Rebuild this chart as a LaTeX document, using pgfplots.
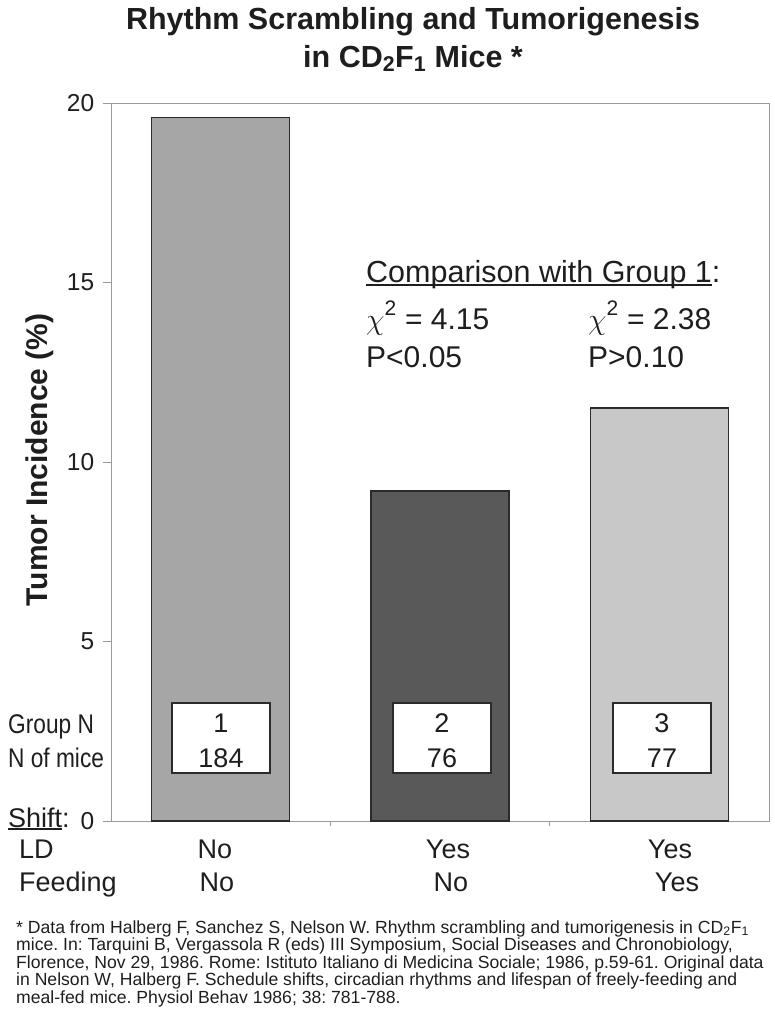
\RequirePackage{fix-cm}
\documentclass[border=0pt]{standalone}
\usepackage{fontspec}
\setmainfont{Liberation Sans}
\newfontfamily\narrowfont{Liberation Sans}[FakeStretch=0.84]
\usepackage{pgfplots}
\pgfplotsset{compat=1.18}
\definecolor{barA}{HTML}{A6A6A6}
\definecolor{barB}{HTML}{595959}
\definecolor{barC}{HTML}{C8C8C8}
\definecolor{edge}{HTML}{2B2B2B}
\definecolor{axgray}{HTML}{9A9A9A}
\definecolor{txt}{HTML}{1E1E1E}
\newcommand\ulx[2]{\setbox0\hbox{#2}\rlap{\rule[#1]{\wd0}{1.8pt}}\box0}
\newcommand\fs[1]{\fontsize{#1}{#1}\selectfont}
\frenchspacing
\begin{document}
\frenchspacing
\begin{tikzpicture}
\useasboundingbox (0pt,0pt) rectangle (774pt,-1031pt);
\begin{axis}[
  at={(111pt,-821pt)}, anchor=south west,
  scale only axis, width=658pt, height=718pt,
  xmin=0.5, xmax=3.5, ymin=0, ymax=20,
  ytick={0,5,10,15,20},
  xtick={1.5,2.5}, xticklabels={},
  tick pos=left, tick align=outside,
  axis line style={draw=axgray, line width=1pt},
  xtick style={draw=axgray, line width=1pt, /pgfplots/major tick length=5pt},
  ytick style={draw=axgray, line width=1pt, /pgfplots/major tick length=8pt},
  /pgf/number format/assume math mode=true,
  yticklabel style={font=\fs{24.5}, text=txt, xshift=-9pt},
  clip=false,
]
\addplot[ybar, bar width=138pt, bar shift=0pt, fill=barA, draw=edge, line width=1.6pt] coordinates {(1,19.6)};
\addplot[ybar, bar width=138pt, bar shift=0pt, fill=barB, draw=edge, line width=1.6pt] coordinates {(2,9.2)};
\addplot[ybar, bar width=138pt, bar shift=0pt, fill=barC, draw=edge, line width=1.6pt] coordinates {(3,11.5)};
\end{axis}
% boxes in bars
\foreach \cx/\a/\b in {221/1/184, 442/2/76, 662/3/77}{
  \node[draw=edge, line width=1.2pt, fill=white, minimum width=98pt, minimum height=70pt, inner sep=0pt] at (\cx pt,-738pt) {};
  \node[anchor=base, font=\fs{27}, text=txt, inner sep=0pt] at (\cx pt,-732pt) {\a};
  \node[anchor=base, font=\fs{27}, text=txt, inner sep=0pt] at (\cx pt,-767pt) {\b};
}
% title
\node[anchor=base, font=\bfseries\fs{30.5}, text=txt, inner sep=0pt] at (413pt,-29pt) {Rhythm Scrambling and Tumorigenesis};
\node[anchor=base, font=\bfseries\fs{30.5}, text=txt, inner sep=0pt] at (413pt,-67pt) {in CD\textsubscript{2}F\textsubscript{1} Mice *};
% y label
\node[anchor=base, rotate=90, font=\bfseries\fs{30}, text=txt, inner sep=0pt] at (47pt,-460pt) {Tumor Incidence (\%)};
% comparison
\node[anchor=base west, font=\fs{30.5}, text=txt, inner sep=0pt] at (366pt,-282pt) {\ulx{-3.5pt}{Comparison with Group 1}:};
\node[anchor=base west, font=\fs{30}, text=txt, inner sep=0pt] at (366pt,-329pt) {$\chi$\raisebox{3pt}{\textsuperscript{2}} = 4.15};
\node[anchor=base west, font=\fs{30}, text=txt, inner sep=0pt] at (366pt,-367pt) {P<0.05};
\node[anchor=base west, font=\fs{30}, text=txt, inner sep=0pt] at (588pt,-329pt) {$\chi$\raisebox{3pt}{\textsuperscript{2}} = 2.38};
\node[anchor=base west, font=\fs{30}, text=txt, inner sep=0pt] at (588pt,-367pt) {P>0.10};
% left labels
\node[anchor=base west, font=\narrowfont\fs{27}, text=txt, inner sep=0pt] at (8pt,-733pt) {Group N};
\node[anchor=base west, font=\narrowfont\fs{27}, text=txt, inner sep=0pt] at (8pt,-767pt) {N of mice};
\node[anchor=base west, font=\fs{27}, text=txt, inner sep=0pt] at (8pt,-827pt) {\ulx{-2.5pt}{Shift}:};
\node[anchor=base west, font=\fs{27}, text=txt, inner sep=0pt] at (19pt,-858pt) {LD};
\node[anchor=base west, font=\fs{27}, text=txt, inner sep=0pt] at (19pt,-891pt) {Feeding};
% category labels
\node[anchor=base, font=\fs{27}, text=txt, inner sep=0pt] at (215pt,-858pt) {No};
\node[anchor=base, font=\fs{27}, text=txt, inner sep=0pt] at (217pt,-891pt) {No};
\node[anchor=base, font=\fs{27}, text=txt, inner sep=0pt] at (448pt,-858pt) {Yes};
\node[anchor=base, font=\fs{27}, text=txt, inner sep=0pt] at (451pt,-891pt) {No};
\node[anchor=base, font=\fs{27}, text=txt, inner sep=0pt] at (670pt,-858pt) {Yes};
\node[anchor=base, font=\fs{27}, text=txt, inner sep=0pt] at (677pt,-891pt) {Yes};
% footnote
\begin{scope}[every node/.style={anchor=base west, font=\frenchspacing\fs{17.6}, text=txt, inner sep=0pt}]
\node at (16pt,-933pt) {* Data from Halberg F, Sanchez S, Nelson W. Rhythm scrambling and tumorigenesis in CD\textsubscript{2}F\textsubscript{1}};
\node at (16pt,-950.5pt) {mice. In: Tarquini B, Vergassola R (eds) III Symposium, Social Diseases and Chronobiology,};
\node at (16pt,-968pt) {Florence, Nov 29, 1986. Rome: Istituto Italiano di Medicina Sociale; 1986, p.59-61. Original data};
\node at (16pt,-985.5pt) {in Nelson W, Halberg F. Schedule shifts, circadian rhythms and lifespan of freely-feeding and};
\node at (16pt,-1003pt) {meal-fed mice. Physiol Behav 1986; 38: 781-788.};
\end{scope}
\end{tikzpicture}
\end{document}
